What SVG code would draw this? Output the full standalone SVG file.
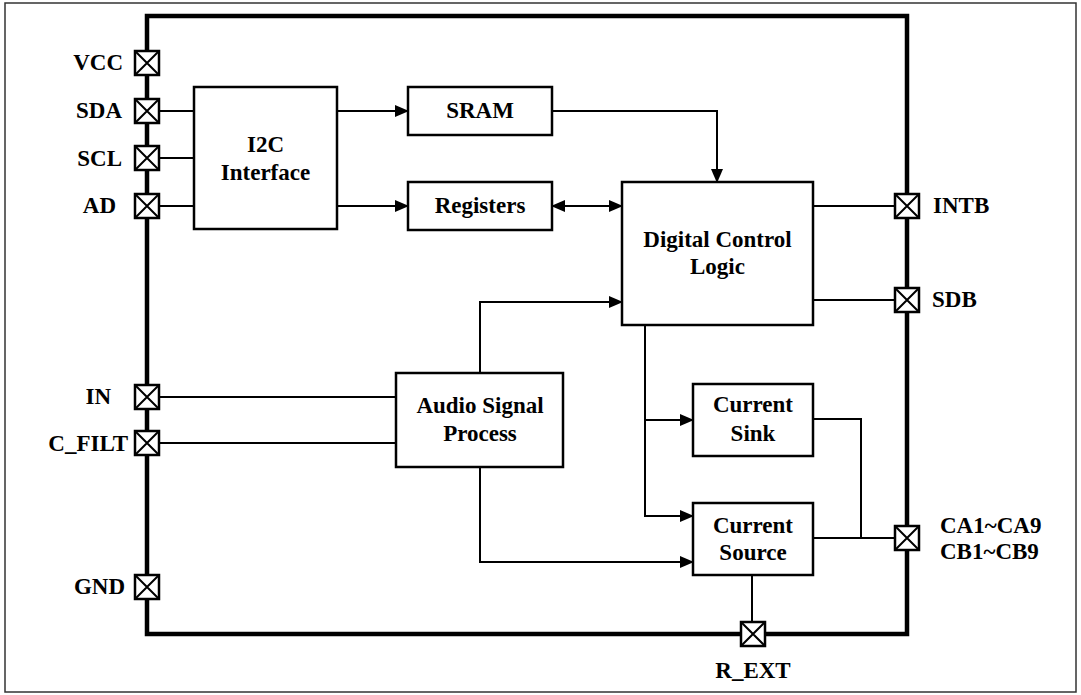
<svg xmlns="http://www.w3.org/2000/svg" width="1081" height="695" viewBox="0 0 1081 695">
<style>
.t{font-family:'Liberation Serif','Times New Roman',Times,serif;font-weight:700;font-size:23px;fill:#000}
.m{text-anchor:middle}
.e{text-anchor:end}
.box{fill:#fff;stroke:#000;stroke-width:2.5}
.pin{fill:#fff;stroke:#000;stroke-width:2.5}
.x{stroke:#000;stroke-width:2;fill:none}
.w{fill:none;stroke:#000;stroke-width:2}
</style>
<defs>
<marker id="ah" markerWidth="14" markerHeight="12" refX="13" refY="6" orient="auto" markerUnits="userSpaceOnUse">
<path d="M0,0 L14,6 L0,12 Z" fill="#000"/>
</marker>
<marker id="as" markerWidth="14" markerHeight="12" refX="1" refY="6" orient="auto" markerUnits="userSpaceOnUse">
<path d="M14,0 L0,6 L14,12 Z" fill="#000"/>
</marker>
<g id="pinsym">
<rect class="pin" x="-12" y="-12" width="24" height="24"/>
<path class="x" d="M-12,-12 L12,12 M12,-12 L-12,12"/>
</g>
</defs>
<rect x="5" y="3" width="1071" height="689" fill="#fff" stroke="#333" stroke-width="1.5"/>
<rect id="chip" x="147" y="16" width="760" height="618" fill="none" stroke="#000" stroke-width="4.5"/>

<g id="connectors">
<path class="w" d="M159,111 H194 M159,158 H194 M159,206 H194"/>
<path class="w" d="M337,111 H408" marker-end="url(#ah)"/>
<path class="w" d="M337,206 H408" marker-end="url(#ah)"/>
<path class="w" d="M552,111 H717 V182" marker-end="url(#ah)"/>
<path class="w" d="M552,206 H622" marker-start="url(#as)" marker-end="url(#ah)"/>
<path class="w" d="M480,373 V302 H622" marker-end="url(#ah)"/>
<path class="w" d="M813,206 H895 M813,300 H895"/>
<path class="w" d="M645,325 V516 H693" marker-end="url(#ah)"/>
<path class="w" d="M645,420 H693" marker-end="url(#ah)"/>
<path class="w" d="M480,467 V562 H693" marker-end="url(#ah)"/>
<path class="w" d="M159,397 H396 M159,443 H396"/>
<path class="w" d="M813,419 H861 V538 M813,538 H895"/>
<path class="w" d="M752,575 V622"/>
</g>

<g id="i2c"><rect class="box" x="194" y="87" width="143" height="142"/>
<text class="t m" x="265.5" y="152">I2C</text><text class="t m" x="265.5" y="180">Interface</text></g>
<g id="sram"><rect class="box" x="408" y="87" width="144" height="48"/>
<text class="t m" x="480" y="118">SRAM</text></g>
<g id="registers"><rect class="box" x="408" y="182" width="144" height="48"/>
<text class="t m" x="480" y="213">Registers</text></g>
<g id="dcl"><rect class="box" x="622" y="182" width="191" height="143"/>
<text class="t m" x="717.5" y="247">Digital Control</text><text class="t m" x="717.5" y="274">Logic</text></g>
<g id="asp"><rect class="box" x="396" y="373" width="167" height="94"/>
<text class="t m" x="480" y="413">Audio Signal</text><text class="t m" x="480" y="441">Process</text></g>
<g id="sink"><rect class="box" x="693" y="384" width="120" height="72"/>
<text class="t m" x="753" y="412">Current</text><text class="t m" x="753" y="441">Sink</text></g>
<g id="source"><rect class="box" x="693" y="503" width="120" height="72"/>
<text class="t m" x="753" y="533">Current</text><text class="t m" x="753" y="560">Source</text></g>

<g id="pin-vcc"><use href="#pinsym" x="147" y="63"/><text class="t e" x="123" y="70">VCC</text></g>
<g id="pin-sda"><use href="#pinsym" x="147" y="111"/><text class="t e" x="122" y="118">SDA</text></g>
<g id="pin-scl"><use href="#pinsym" x="147" y="158"/><text class="t e" x="122" y="166">SCL</text></g>
<g id="pin-ad"><use href="#pinsym" x="147" y="206"/><text class="t e" x="116" y="213">AD</text></g>
<g id="pin-in"><use href="#pinsym" x="147" y="397"/><text class="t e" x="111" y="404">IN</text></g>
<g id="pin-cfilt"><use href="#pinsym" x="147" y="443"/><text class="t e" x="128" y="451">C_FILT</text></g>
<g id="pin-gnd"><use href="#pinsym" x="147" y="587"/><text class="t e" x="125" y="594">GND</text></g>
<g id="pin-intb"><use href="#pinsym" x="907" y="206"/><text class="t" x="933" y="213">INTB</text></g>
<g id="pin-sdb"><use href="#pinsym" x="907" y="300"/><text class="t" x="932" y="307">SDB</text></g>
<g id="pin-ca"><use href="#pinsym" x="907" y="538"/><text class="t" x="940" y="533">CA1~CA9</text><text class="t" x="940" y="559">CB1~CB9</text></g>
<g id="pin-rext"><use href="#pinsym" x="753" y="634"/><text class="t m" x="753" y="678">R_EXT</text></g>
</svg>
